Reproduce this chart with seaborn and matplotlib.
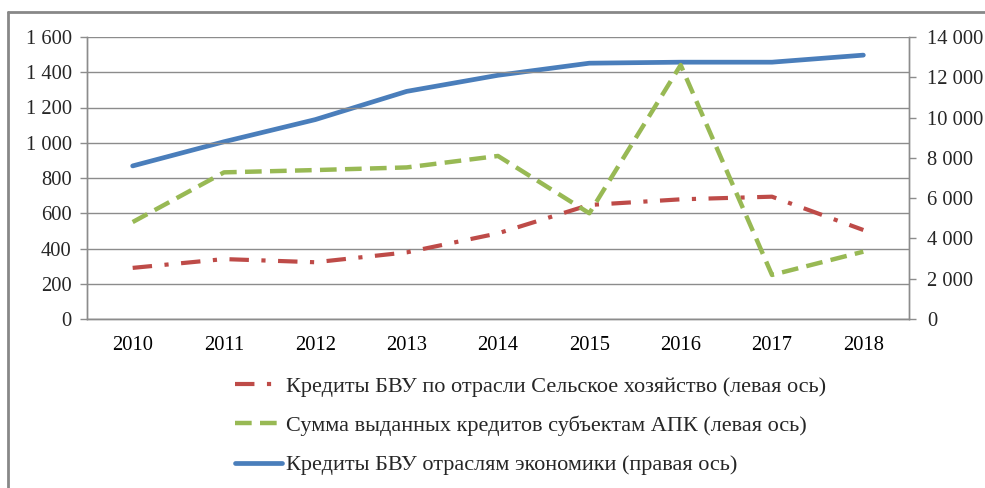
import matplotlib
matplotlib.use("Agg")
import matplotlib.pyplot as plt
import matplotlib.ticker as mticker
from matplotlib.lines import Line2D
import seaborn as sns
import pandas as pd

years = [2010, 2011, 2012, 2013, 2014, 2015, 2016, 2017, 2018]
agri_bvu = [290, 340, 322, 378, 486, 647, 679, 694, 505]
apk_sum = [550, 832, 845, 860, 925, 600, 1441, 250, 382]
economy_bvu = [7600, 8800, 9900, 11300, 12100, 12700, 12750, 12750, 13100]

labels = [
    "Кредиты БВУ по отрасли Сельское хозяйство (левая ось)",
    "Сумма выданных кредитов субъектам АПК (левая ось)",
    "Кредиты БВУ отраслям экономики (правая ось)",
]
left_ticks = [0, 200, 400, 600, 800, 1000, 1200, 1400, 1600]
right_ticks = [0, 2000, 4000, 6000, 8000, 10000, 12000, 14000]

sns.set_theme(style="white")
plt.rcParams["font.family"] = ["Liberation Serif", "DejaVu Serif"]
plt.rcParams["lines.scale_dashes"] = False

RED = "#BE4B48"
GREEN = "#98B954"
BLUE = "#4A7EBB"
GRID = "#8C8C8C"
TICK_FS = 14.8
LEG_FS = 16

df = pd.DataFrame({"year": years, "agri": agri_bvu, "apk": apk_sum, "eco": economy_bvu})

fig = plt.figure(figsize=(9.85, 4.88), dpi=100)
ax = fig.add_axes([87 / 985, 1 - 319 / 488, (909 - 87) / 985, (319 - 37) / 488])
ax2 = ax.twinx()

red_ls = (0, (14, 9, 3, 9))
green_ls = (0, (12, 6))

sns.lineplot(data=df, x="year", y="agri", ax=ax, color=RED, linewidth=3.0,
             linestyle=red_ls, legend=False)
sns.lineplot(data=df, x="year", y="apk", ax=ax, color=GREEN, linewidth=3.2,
             linestyle=green_ls, legend=False)
sns.lineplot(data=df, x="year", y="eco", ax=ax2, color=BLUE, linewidth=3.4,
             legend=False)
for a in (ax, ax2):
    for ln in a.get_lines():
        ln.set_solid_joinstyle("round")
        ln.set_dash_joinstyle("round")
        ln.set_solid_capstyle("round")

ax.set_zorder(ax2.get_zorder() + 1)
ax.patch.set_visible(False)

ax.set_xlim(years[0] - 0.5, years[-1] + 0.5)
ax.set_ylim(0, 1600)
ax2.set_ylim(0, 14000)
ax.set_yticks(left_ticks)
ax2.set_yticks(right_ticks)

fmt = mticker.FuncFormatter(lambda v, p: f"{int(v):,}".replace(",", " "))
ax.yaxis.set_major_formatter(fmt)
ax2.yaxis.set_major_formatter(fmt)

ax.set_xticks(years)
ax.set_xticklabels([str(y) for y in years])
ax.set_xticks([y + 0.5 for y in [years[0] - 1] + years], minor=True)
ax.tick_params(axis="x", which="major", length=0, pad=12, labelsize=TICK_FS, colors="black")
ax.tick_params(axis="x", which="minor", length=5, width=1, color=GRID, direction="out")
ax.tick_params(axis="y", length=5, width=1, color=GRID, pad=6, labelsize=TICK_FS, direction="out", left=True)
ax2.tick_params(axis="y", length=5, width=1, color=GRID, pad=8, labelsize=TICK_FS, direction="out", right=True)

ax.grid(axis="y", color=GRID, linewidth=1)
ax.set_xlabel("")
ax.set_ylabel("")
ax2.set_ylabel("")
for a in (ax, ax2):
    for s in a.spines.values():
        s.set_color(GRID)
        s.set_linewidth(1)
    a.spines["top"].set_visible(False)

# frame of the chart (cropped on right and bottom)
fig.add_artist(Line2D([7.5 / 985, 7.5 / 985], [0, 1 - 12 / 488], transform=fig.transFigure,
                      color="#888888", linewidth=2))
fig.add_artist(Line2D([7.5 / 985, 1], [1 - 12 / 488, 1 - 12 / 488], transform=fig.transFigure,
                      color="#888888", linewidth=2))

handles = [
    Line2D([], [], color=RED, linewidth=3.0, linestyle=red_ls),
    Line2D([], [], color=GREEN, linewidth=3.2, linestyle=green_ls),
    Line2D([], [], color=BLUE, linewidth=3.4),
]
fig.legend(handles, labels, loc="upper left", bbox_to_anchor=(235 / 985, 1 - 376 / 488),
           frameon=False, fontsize=LEG_FS, handlelength=2.1, handletextpad=0.2,
           labelspacing=0.85, borderaxespad=0, borderpad=0)

fig.savefig("out.png", dpi=100, facecolor="white")
